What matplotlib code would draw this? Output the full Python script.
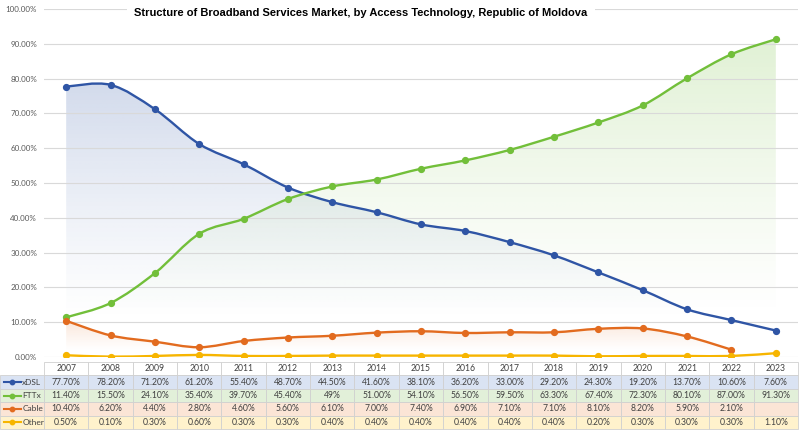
import numpy as np
import matplotlib
matplotlib.use('Agg')
import matplotlib.pyplot as plt
import matplotlib.transforms as mtransforms
from matplotlib.path import Path
from matplotlib.patches import PathPatch, Rectangle
from matplotlib.lines import Line2D
from matplotlib.ticker import PercentFormatter

# data (percent share by access technology)
years = [2007, 2008, 2009, 2010, 2011, 2012, 2013, 2014, 2015,
         2016, 2017, 2018, 2019, 2020, 2021, 2022, 2023]
xdsl = [77.7, 78.2, 71.2, 61.2, 55.4, 48.7, 44.5, 41.6, 38.1,
        36.2, 33.0, 29.2, 24.3, 19.2, 13.7, 10.6, 7.6]
fttx = [11.4, 15.5, 24.1, 35.4, 39.7, 45.4, 49.0, 51.0, 54.1,
        56.5, 59.5, 63.3, 67.4, 72.3, 80.1, 87.0, 91.3]
cable = [10.4, 6.2, 4.4, 2.8, 4.6, 5.6, 6.1, 7.0, 7.4,
         6.9, 7.1, 7.1, 8.1, 8.2, 5.9, 2.1, None]
other = [0.5, 0.1, 0.3, 0.6, 0.3, 0.3, 0.4, 0.4, 0.4,
         0.4, 0.4, 0.4, 0.2, 0.3, 0.3, 0.3, 1.1]
series_names = ['xDSL', 'FTTx', 'Cable', 'Other']
label_override = {('FTTx', 2013): '49%'}

colors = ['#2f55a5', '#72bf3a', '#e26b1f', '#f7b500']
row_bg = ['#dae3f3', '#e2f0d9', '#fbe5d6', '#fff2cc']

plt.rcParams['font.family'] = ['Lato', 'DejaVu Sans']

fig = plt.figure(figsize=(8, 4.3), dpi=100)
ax = fig.add_axes([44 / 800, 73 / 430, 754 / 800, 348 / 430])
for s in ax.spines.values():
    s.set_visible(False)
ax.set_yticks(np.arange(0, 101, 10))
ax.yaxis.set_major_formatter(PercentFormatter(decimals=2))
ax.tick_params(axis='y', length=0, labelsize=5.8, labelcolor='#595959', pad=5)
ax.set_xticks([])
ax.grid(axis='y', color='#d9d9d9', lw=0.8)
ax.set_axisbelow(False)


def smooth(xs, ys):
    pts = np.column_stack([xs, ys])
    n = len(pts)
    verts = [pts[0]]
    codes = [Path.MOVETO]
    for i in range(n - 1):
        p0 = pts[max(i - 1, 0)]
        p1 = pts[i]
        p2 = pts[i + 1]
        p3 = pts[min(i + 2, n - 1)]
        verts += [p1 + (p2 - p0) / 6, p2 - (p3 - p1) / 6, p2]
        codes += [Path.CURVE4] * 3
    return verts, codes


all_series = [xdsl, fttx, cable, other]
for k, (vals, c) in enumerate(zip(all_series, colors)):
    xs = np.array([y for y, v in zip(years, vals) if v is not None], float)
    ys = np.array([v for v in vals if v is not None], float)
    verts, codes = smooth(xs, ys)
    # gradient area under the line, strongest at the top, gone near the bottom
    fv = verts + [(xs[-1], 0), (xs[0], 0), (xs[0], 0)]
    fc = codes + [Path.LINETO, Path.LINETO, Path.CLOSEPOLY]
    clip = PathPatch(Path(fv, fc), facecolor='none', edgecolor='none')
    ax.add_patch(clip)
    top = ys.max() + 2
    h = np.linspace(1, 0, 200)
    rgba = np.zeros((200, 2, 4))
    rgba[..., :3] = matplotlib.colors.to_rgb(c)
    rgba[..., 3] = (0.22 * np.clip((h - 0.12) / 0.88, 0, 1) ** 1.2)[:, None]
    im = ax.imshow(rgba, extent=[xs[0], xs[-1], 0, top], aspect='auto',
                   origin='upper', zorder=1, interpolation='bilinear')
    im.set_clip_path(clip)
    ax.add_patch(PathPatch(Path(verts, codes), facecolor='none', edgecolor=c,
                           lw=1.7, zorder=3 + k, capstyle='round'))
    ax.plot(xs, ys, 'o', color=c, ms=4.2, zorder=3 + k)

ax.set_xlim(2006.5, 2023.5)
ax.set_ylim(0, 100)

fig.text(361 / 800, 1 - 13 / 430, 'Structure of Broadband Services Market, by Access Technology, Republic of Moldova',
         ha='center', va='center', fontsize=8, fontweight='bold', family='Liberation Sans',
         bbox=dict(facecolor='white', edgecolor='none', pad=5), zorder=10)

# data table below the chart
tr = mtransforms.blended_transform_factory(ax.transData, ax.transAxes)
rh = 13.4 / 348
ytop = -5 / 348
lab_x0 = 2006.5 - 44 / (754 / 17)
grid_c = '#d0d0d0'
# header row
for y in years:
    ax.add_patch(Rectangle((y - 0.5, ytop - rh), 1, rh, transform=tr, clip_on=False,
                           facecolor='white', edgecolor=grid_c, lw=0.6))
    ax.text(y, ytop - rh / 2, str(y), transform=tr, ha='center', va='center',
            fontsize=6.2, color='#404040', clip_on=False)
for r, (name, vals) in enumerate(zip(series_names, all_series)):
    y0 = ytop - rh * (r + 2)
    ax.add_patch(Rectangle((lab_x0, y0), 2006.5 - lab_x0, rh, transform=tr, clip_on=False,
                           facecolor=row_bg[r], edgecolor=grid_c, lw=0.6))
    kx = [lab_x0 + 0.08, lab_x0 + 0.48]
    ax.add_line(Line2D(kx, [y0 + rh / 2] * 2, transform=tr, color=colors[r], lw=1.5, clip_on=False))
    ax.add_line(Line2D([np.mean(kx)], [y0 + rh / 2], transform=tr, color=colors[r], marker='o',
                       ms=3.2, clip_on=False))
    ax.text(lab_x0 + 0.5, y0 + rh / 2, name, transform=tr, ha='left', va='center',
            fontsize=6, color='#404040', clip_on=False)
    for yr, v in zip(years, vals):
        ax.add_patch(Rectangle((yr - 0.5, y0), 1, rh, transform=tr, clip_on=False,
                               facecolor=row_bg[r], edgecolor=grid_c, lw=0.6))
        if v is None:
            continue
        txt = label_override.get((name, yr), '{:.2f}%'.format(v))
        ax.text(yr, y0 + rh / 2, txt, transform=tr, ha='center', va='center',
                fontsize=6.2, color='#404040', clip_on=False)

fig.savefig('out.png', dpi=100)
